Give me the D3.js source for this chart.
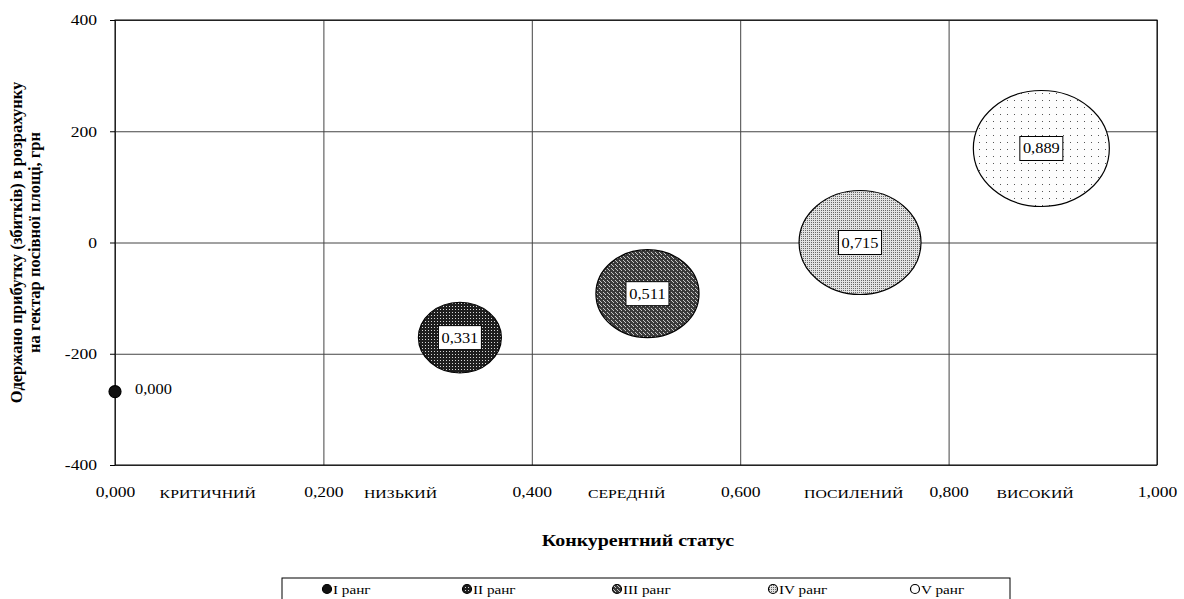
<!doctype html>
<html lang="uk">
  <head>
    <meta charset="utf-8">
    <title>Конкурентний статус</title>
    <script src="https://cdn.jsdelivr.net/npm/d3@7"></script>
    <style>
      body { margin: 0; background: #fff; }
      svg text { font-family: "Liberation Serif", "Times New Roman", "DejaVu Serif", serif; }
    </style>
  </head>
  <body>
    <script>
      // data
      var ranks    = ["I ранг", "II ранг", "III ранг", "IV ранг", "V ранг"];
      var statuses = [0.000, 0.331, 0.511, 0.715, 0.889];   // x value and bubble size
      var profits  = [-268, -171, -92, 0, 169];             // грн per hectare
      var labels   = ["0,000", "0,331", "0,511", "0,715", "0,889"];

      var xTicks = [0, 0.2, 0.4, 0.6, 0.8, 1.0];
      var yTicks = [-400, -200, 0, 200, 400];
      var zones    = ["КРИТИЧНИЙ", "НИЗЬКИЙ", "СЕРЕДНІЙ", "ПОСИЛЕНИЙ", "ВИСОКИЙ"];
      var zoneAt   = [0.089, 0.274, 0.491, 0.709, 0.883];

      var fmt = function(v, d){ return v.toFixed(d).replace(".", ","); };

      var W = 1184, H = 599;
      var SX = 1.17; // the original picture is a bit wider than tall
      var margin = {top: 20, right: 27, bottom: 134, left: 115},
          width  = W - margin.left - margin.right,
          height = H - margin.top - margin.bottom;

      // widen horizontal text the way the source image is stretched
      function stretch(sel){
        sel.each(function(){
          var t = d3.select(this);
          var tx = +t.attr("x") || 0, ty = +t.attr("y") || 0;
          t.attr("x", null).attr("y", null)
           .attr("transform", "translate(" + tx + "," + ty + ") scale(" + SX + ",1)");
        });
      }

      var svg = d3.select("body").append("svg")
        .attr("width", W).attr("height", H);

      // fill patterns, one per rank
      var defs = svg.append("defs");
      function pat(id, size, bg, dots, dotColor){
        var p = defs.append("pattern").attr("id", id)
          .attr("patternUnits", "userSpaceOnUse")
          .attr("width", size).attr("height", size);
        p.append("rect").attr("width", size).attr("height", size).attr("fill", bg);
        dots.forEach(function(d){
          p.append("rect").attr("x", d[0]).attr("y", d[1])
            .attr("width", 1).attr("height", 1).attr("fill", dotColor);
        });
      }
      pat("p2", 3, "#1e1e1e", [[1,1]], "#d8d8d8");
      pat("p3", 4, "#3a3a3a", [[0,0],[2,2],[1,1]], "#c8c8c8");
      pat("p4", 2, "#e2e2e2", [[0,0]], "#666");
      pat("p5", 7, "#fdfdfd", [[3,3]], "#555");
      var fills = ["#111", "url(#p2)", "url(#p3)", "url(#p4)", "url(#p5)"];

      var x = d3.scaleLinear().domain([0, 1]).range([0, width]);
      var y = d3.scaleLinear().domain([-400, 400]).range([height, 0]);
      var rx = d3.scaleSqrt().domain([0, 0.889]).range([0, 68]);
      var ry = d3.scaleSqrt().domain([0, 0.889]).range([0, 58]);

      var chart = svg.append("g")
        .attr("transform", "translate(" + margin.left + "," + margin.top + ")");

      // grid
      chart.append("g")
        .attr("transform", "translate(0," + height + ")")
        .call(d3.axisBottom(x).tickValues(xTicks).tickSize(-height).tickFormat(""))
        .call(function(g){ g.select(".domain").remove();
                           g.selectAll("line").attr("stroke", "#444"); });
      chart.append("g")
        .call(d3.axisLeft(y).tickValues(yTicks).tickSize(-width).tickFormat(""))
        .call(function(g){ g.select(".domain").remove();
                           g.selectAll("line").attr("stroke", "#444"); });

      chart.append("rect")
        .attr("width", width).attr("height", height)
        .attr("fill", "none").attr("stroke", "#000");

      // y axis with small outer ticks
      chart.append("g")
        .call(d3.axisLeft(y).tickValues(yTicks).tickSize(5).tickPadding(13)
              .tickFormat(function(d){ return d; }))
        .call(function(g){
          g.attr("font-family", null).attr("font-size", null);
          g.select(".domain").remove();
          g.selectAll("line").attr("stroke", "#000");
          g.selectAll("text").attr("font-size", 15).attr("fill", "#000").call(stretch);
        });

      // x axis labels
      chart.append("g")
        .attr("transform", "translate(0," + height + ")")
        .call(d3.axisBottom(x).tickValues(xTicks).tickSize(0).tickPadding(21)
              .tickFormat(function(d){ return fmt(d, 3); }))
        .call(function(g){
          g.attr("font-family", null).attr("font-size", null);
          g.select(".domain").remove();
          g.selectAll("text").attr("font-size", 15).attr("fill", "#000").call(stretch);
        });

      chart.selectAll(".zone")
        .data(zones)
        .enter().append("text")
        .attr("class", "zone")
        .attr("x", function(d, i){ return x(zoneAt[i]); })
        .attr("y", height + 33)
        .attr("text-anchor", "middle")
        .attr("font-size", 13.5)
        .text(function(d){ return d; })
        .call(stretch);

      // bubbles
      var pts = ranks.map(function(r, i){
        return {rank: r, s: statuses[i], p: profits[i], label: labels[i], fill: fills[i]};
      });

      chart.selectAll(".bubble")
        .data(pts)
        .enter().append("ellipse")
        .attr("class", "bubble")
        .attr("cx", function(d){ return x(d.s); })
        .attr("cy", function(d){ return y(d.p); })
        .attr("rx", function(d){ return Math.max(rx(d.s), 6); })
        .attr("ry", function(d){ return Math.max(ry(d.s), 6); })
        .attr("fill", function(d){ return d.fill; })
        .attr("stroke", "#000")
        .attr("stroke-width", 1.2);

      // data labels (boxed for the real bubbles)
      var lab = chart.selectAll(".lab")
        .data(pts)
        .enter().append("g")
        .attr("class", "lab")
        .attr("transform", function(d){
          var dx = d.s === 0 ? 20 : 0;
          return "translate(" + (x(d.s) + dx) + "," + y(d.p) + ")";
        });

      lab.filter(function(d){ return d.s > 0; })
        .append("rect")
        .attr("x", -21.5).attr("y", -12)
        .attr("width", 43).attr("height", 24)
        .attr("fill", "#fff").attr("stroke", "#000");

      lab.append("text")
        .attr("y", function(d){ return d.s > 0 ? 5 : 2; })
        .attr("text-anchor", function(d){ return d.s > 0 ? "middle" : "start"; })
        .attr("font-size", 14)
        .text(function(d){ return d.label; })
        .call(stretch);

      // axis titles
      svg.append("text")
        .attr("x", margin.left + width / 2 + 2)
        .attr("y", 546)
        .attr("text-anchor", "middle")
        .attr("font-size", 17).attr("font-weight", "bold")
        .text("Конкурентний статус")
        .call(stretch);

      var yt = svg.append("text")
        .attr("transform", "translate(0," + (margin.top + height / 2) + ") rotate(-90)")
        .attr("text-anchor", "middle")
        .attr("font-size", 16.5).attr("font-weight", "bold");
      yt.append("tspan").attr("x", 0).attr("y", 22)
        .text("Одержано прибутку (збитків) в розрахунку");
      yt.append("tspan").attr("x", 0).attr("y", 40)
        .text("на гектар посівної площі, грн");

      // legend
      var legendX = [327, 467, 617, 773, 915];
      var legend = svg.append("g");
      legend.append("rect")
        .attr("x", 282).attr("y", 578)
        .attr("width", 728).attr("height", 30)
        .attr("fill", "#fff").attr("stroke", "#000");

      var li = legend.selectAll(".li")
        .data(pts)
        .enter().append("g")
        .attr("class", "li")
        .attr("transform", function(d, i){ return "translate(" + legendX[i] + ",589)"; });
      li.append("circle")
        .attr("r", 4.5)
        .attr("fill", function(d){ return d.fill; })
        .attr("stroke", "#000").attr("stroke-width", 1.2);
      li.append("text")
        .attr("x", 6).attr("y", 4.5)
        .attr("font-size", 13)
        .text(function(d){ return d.rank; })
        .call(stretch);
    </script>
  </body>
</html>
